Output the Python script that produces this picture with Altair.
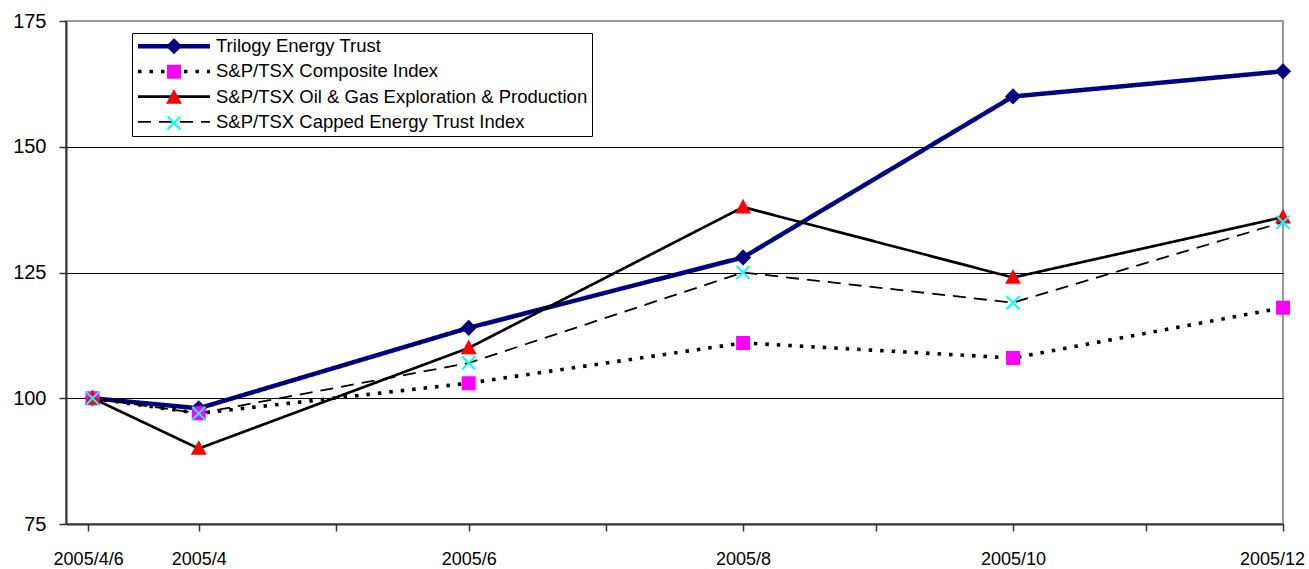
import altair as alt
import pandas as pd

# ---- data ----
dates = ["2005-04-06", "2005-04-30", "2005-06-30", "2005-08-31", "2005-10-31", "2005-12-31"]
series_names = [
    "Trilogy Energy Trust",
    "S&P/TSX Composite Index",
    "S&P/TSX Oil & Gas Exploration & Production",
    "S&P/TSX Capped Energy Trust Index",
]
trilogy = [100, 98, 114, 128, 160, 165]
composite = [100, 97, 103, 111, 108, 118]
oil_gas = [100, 90, 110, 138, 124, 136]
capped = [100, 97, 107, 125, 119, 135]

tick_dates = ["2005-04-05", "2005-04-30", "2005-05-31", "2005-06-30", "2005-07-31",
              "2005-08-31", "2005-09-30", "2005-10-31", "2005-11-30", "2005-12-31"]
tick_labels = ["2005/4/6", "2005/4", "", "2005/6", "", "2005/8", "", "2005/10", "", "2005/12"]
x_domain_dates = ["2005-03-31", "2005-12-31"]
y_ticks = [75, 100, 125, 150, 175]

# ---- styles ----
line_colors = ["#000080", "#000000", "#000000", "#000000"]
line_dashes = [[1, 0], [3.5, 8], [1, 0], [13, 8]]
line_widths = [4.5, 1.8, 2, 2.2]
marker_paths = [
    "M0,-1.03L1.03,0L0,1.03L-1.03,0Z",
    "M-0.92,-0.92L0.92,-0.92L0.92,0.92L-0.92,0.92Z",
    "M0,-0.96L0.96,0.81L-0.96,0.81Z",
    "M-1.0,-1.0L1.0,1.0M-1.0,1.0L1.0,-1.0",
]
marker_fills = ["#000080", "#FF00FF", "#FF0000", "transparent"]
marker_strokes = ["#000080", "#FF00FF", "#FF0000", "#00FFFF"]

day = list(pd.to_datetime(pd.Series(dates)).dt.dayofyear)
tick_days = [int(v) for v in pd.to_datetime(pd.Series(tick_dates)).dt.dayofyear]
x_dom = [int(v) for v in pd.to_datetime(pd.Series(x_domain_dates)).dt.dayofyear]

# marker keys differ from line keys so the two legends stay separate
marker_keys = [n + " " for n in series_names]

rows = []
for name, mkey, vals in zip(series_names, marker_keys, [trilogy, composite, oil_gas, capped]):
    for d, v in zip(day, vals):
        rows.append({"day": int(d), "value": v, "series": name, "series_m": mkey})
df = pd.DataFrame(rows)

expr = "''"
for d, lab in reversed(list(zip(tick_days, tick_labels))):
    expr = f"datum.value == {d} ? '{lab}' : {expr}"

FONT = "Liberation Sans"
LEG_FS = 18.5

x_enc = alt.X(
    "day:Q",
    scale=alt.Scale(domain=x_dom, nice=False, zero=False),
    axis=alt.Axis(
        values=tick_days, labelExpr=expr, title=None, grid=False,
        tickSize=7, tickColor="#333333", tickWidth=1.5,
        domainColor="#333333", domainWidth=2,
        labelFont=FONT, labelFontSize=18, labelColor="black",
        labelPadding=19, labelOverlap=False, labelFlush=False, labelBound=False,
        labelOffset={"condition": {"test": "datum.value == %d" % tick_days[-1], "value": -11}, "value": 0},
    ),
)
y_enc = alt.Y(
    "value:Q",
    scale=alt.Scale(domain=[y_ticks[0], y_ticks[-1]], nice=False, zero=False),
    axis=alt.Axis(
        values=y_ticks, title=None, grid=True,
        gridColor="black", gridWidth=1,
        gridOpacity={"condition": {"test": "datum.value == %d || datum.value == %d" % (y_ticks[0], y_ticks[-1]), "value": 0}, "value": 1},
        tickSize=7, tickColor="#333333", tickWidth=1.5,
        domainColor="#333333", domainWidth=2,
        labelFont=FONT, labelFontSize=20, labelColor="black", labelPadding=13,
    ),
)

legend_a = alt.Legend(
    title=None, orient="none", legendX=66, legendY=12, direction="vertical",
    symbolType="M-5.54,0L5.54,0", symbolSize=169, symbolOffset=28.75, labelOffset=32.75,
    labelFont=FONT, labelFontSize=LEG_FS, labelColor="black", labelLimit=800,
    padding=4, rowPadding=6.2, strokeColor="black", zindex=1,
)
legend_b = alt.Legend(
    title=None, orient="none", legendX=66, legendY=12, direction="vertical",
    symbolSize=169, symbolOffset=28.75, symbolStrokeWidth=2, labelOffset=32.75,
    labelFont=FONT, labelFontSize=LEG_FS, labelOpacity=0, labelLimit=800,
    padding=4, rowPadding=4.6, zindex=2,
)

base = alt.Chart(df)
lines = base.mark_line().encode(
    x=x_enc, y=y_enc,
    color=alt.Color("series:N", scale=alt.Scale(domain=series_names, range=line_colors), legend=legend_a),
    strokeDash=alt.StrokeDash("series:N", scale=alt.Scale(domain=series_names, range=line_dashes), legend=legend_a),
    strokeWidth=alt.StrokeWidth("series:N", scale=alt.Scale(domain=series_names, range=line_widths), legend=legend_a),
)
points = base.mark_point(filled=True, size=169, strokeWidth=2, opacity=1).encode(
    x=x_enc, y=y_enc,
    shape=alt.Shape("series_m:N", scale=alt.Scale(domain=marker_keys, range=marker_paths), legend=legend_b),
    fill=alt.Fill("series_m:N", scale=alt.Scale(domain=marker_keys, range=marker_fills), legend=legend_b),
    stroke=alt.Stroke("series_m:N", scale=alt.Scale(domain=marker_keys, range=marker_strokes), legend=legend_b),
)

chart = alt.layer(lines, points).properties(
    width=1217, height=503,
    padding={"left": 66, "top": 21, "right": 26, "bottom": 45},
    autosize=alt.AutoSizeParams(type="none"),
    background="white",
).configure_view(stroke="#999999", strokeWidth=2)

chart.save("out.html", embed_options={"renderer": "svg", "actions": False})
